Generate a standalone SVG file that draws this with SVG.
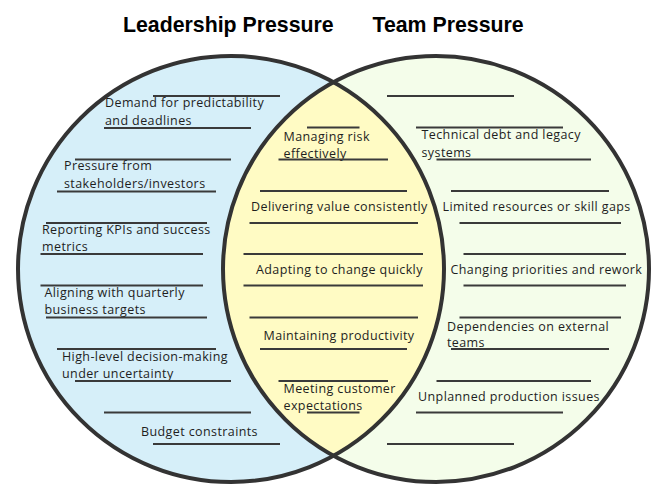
<svg xmlns="http://www.w3.org/2000/svg" width="669" height="503" viewBox="0 0 669 503">
<style>
.title{font-family:"Liberation Sans",Arial,sans-serif;font-weight:bold;font-size:21.3px;fill:#000}
.t{font-family:"Open Sans","Noto Sans",sans-serif;font-size:12.5px;letter-spacing:0.4px;fill:#1e1e1e}
.ln{stroke:#3a3a3a;stroke-width:2;fill:none}
.ring{fill:none;stroke:#333;stroke-width:4}
</style>
<defs>
<clipPath id="clipL"><circle cx="231" cy="269" r="213"/></clipPath>
</defs>
<rect width="669" height="503" fill="#fff"/>
<g id="titles">
<text class="title" x="123" y="31.5">Leadership Pressure</text>
<text class="title" x="372.5" y="31.5">Team Pressure</text>
</g>
<g id="circles">
<circle cx="231" cy="269" r="213" fill="#d6eff9"/>
<circle cx="436" cy="269" r="213" fill="#f4fdea"/>
<circle cx="436" cy="269" r="213" fill="#fffbc4" clip-path="url(#clipL)"/>
<circle class="ring" cx="231" cy="269" r="213"/>
<circle class="ring" cx="436" cy="269" r="213"/>
</g>
<g id="leadership">
<g id="l1">
<line class="ln" x1="153" y1="96" x2="280" y2="96"/>
<text class="t" x="105" y="107">Demand for predictability</text>
<text class="t" x="105" y="125">and deadlines</text>
<line class="ln" x1="104" y1="128" x2="251" y2="128"/>
</g>
<g id="l2">
<line class="ln" x1="75" y1="159.5" x2="231" y2="159.5"/>
<text class="t" x="64" y="170">Pressure from</text>
<text class="t" x="64" y="187.5">stakeholders/investors</text>
<line class="ln" x1="57" y1="191.5" x2="216" y2="191.5"/>
</g>
<g id="l3">
<line class="ln" x1="46" y1="223" x2="207" y2="223"/>
<text class="t" x="42" y="233.5">Reporting KPIs and success</text>
<text class="t" x="42" y="251">metrics</text>
<line class="ln" x1="40.5" y1="254" x2="203" y2="254"/>
</g>
<g id="l4">
<line class="ln" x1="40.5" y1="285.5" x2="203" y2="285.5"/>
<text class="t" x="44.5" y="296.5">Aligning with quarterly</text>
<text class="t" x="44.5" y="314">business targets</text>
<line class="ln" x1="46" y1="317.5" x2="207" y2="317.5"/>
</g>
<g id="l5">
<line class="ln" x1="57" y1="349" x2="216" y2="349"/>
<text class="t" x="62" y="360.5">High-level decision-making</text>
<text class="t" x="62" y="378">under uncertainty</text>
<line class="ln" x1="75" y1="381" x2="231" y2="381"/>
</g>
<g id="l6">
<line class="ln" x1="104" y1="412.5" x2="251" y2="412.5"/>
<text class="t" x="141" y="435.5">Budget constraints</text>
<line class="ln" x1="153" y1="444" x2="280" y2="444"/>
</g>
</g>
<g id="shared">
<g id="s1">
<line class="ln" x1="307" y1="127.5" x2="359.5" y2="127.5"/>
<text class="t" x="283.5" y="141">Managing risk</text>
<text class="t" x="283.5" y="158">effectively</text>
<line class="ln" x1="278.5" y1="159.5" x2="388" y2="159.5"/>
</g>
<g id="s2">
<line class="ln" x1="260" y1="191" x2="407" y2="191"/>
<text class="t" x="251" y="211">Delivering value consistently</text>
<line class="ln" x1="249.5" y1="223" x2="418" y2="223"/>
</g>
<g id="s3">
<line class="ln" x1="243.5" y1="254" x2="423" y2="254"/>
<text class="t" x="256" y="274">Adapting to change quickly</text>
<line class="ln" x1="243.5" y1="285.5" x2="423" y2="285.5"/>
</g>
<g id="s4">
<line class="ln" x1="249.5" y1="317.5" x2="418" y2="317.5"/>
<text class="t" x="263.5" y="340">Maintaining productivity</text>
<line class="ln" x1="260" y1="349" x2="407" y2="349"/>
</g>
<g id="s5">
<line class="ln" x1="278.5" y1="381" x2="388" y2="381"/>
<text class="t" x="283.5" y="392.5">Meeting customer</text>
<text class="t" x="283.5" y="410">expectations</text>
<line class="ln" x1="307" y1="412.5" x2="359.5" y2="412.5"/>
</g>
</g>
<g id="team">
<g id="r0">
<line class="ln" x1="387" y1="96" x2="514" y2="96"/>
</g>
<g id="r1">
<line class="ln" x1="416" y1="127.5" x2="563" y2="127.5"/>
<text class="t" x="421.5" y="139">Technical debt and legacy</text>
<text class="t" x="421.5" y="156.5">systems</text>
<line class="ln" x1="436.5" y1="159.5" x2="591" y2="159.5"/>
</g>
<g id="r2">
<line class="ln" x1="451" y1="191" x2="609" y2="191"/>
<text class="t" x="442.5" y="210.5">Limited resources or skill gaps</text>
<line class="ln" x1="459.5" y1="223" x2="621" y2="223"/>
</g>
<g id="r3">
<line class="ln" x1="463.5" y1="254" x2="626" y2="254"/>
<text class="t" x="450.5" y="274">Changing priorities and rework</text>
<line class="ln" x1="463.5" y1="285.5" x2="626" y2="285.5"/>
</g>
<g id="r4">
<line class="ln" x1="459.5" y1="317.5" x2="621" y2="317.5"/>
<text class="t" x="447" y="330.5">Dependencies on external</text>
<text class="t" x="447" y="347">teams</text>
<line class="ln" x1="451" y1="349" x2="609" y2="349"/>
</g>
<g id="r5">
<line class="ln" x1="436.5" y1="381" x2="591" y2="381"/>
<text class="t" x="418" y="401">Unplanned production issues</text>
<line class="ln" x1="416" y1="412.5" x2="563" y2="412.5"/>
</g>
<g id="r6">
<line class="ln" x1="387" y1="444" x2="514" y2="444"/>
</g>
</g>
</svg>
